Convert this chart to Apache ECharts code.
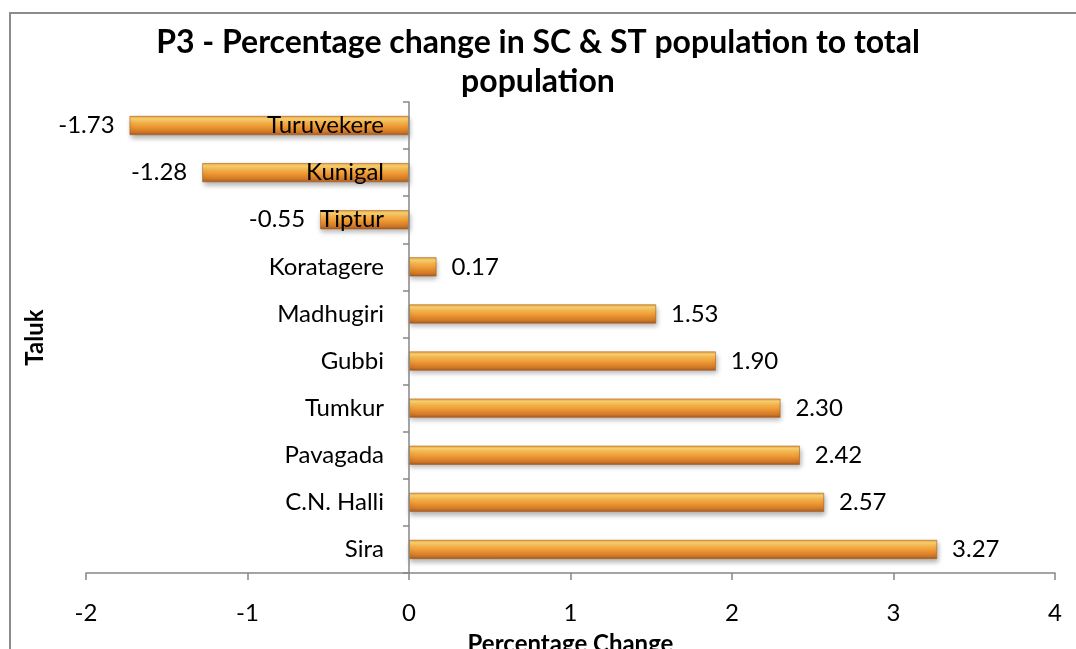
<!DOCTYPE html>
<html>
<head>
<meta charset="utf-8">
<script src="https://cdn.jsdelivr.net/npm/echarts@6/dist/echarts.min.js"></script>
<style>
  html, body { margin: 0; padding: 0; background: #fff; }
  #chart { width: 1076px; height: 649px; }
</style>
</head>
<body>
<div id="chart"></div>
<script>
// Taluks, listed bottom to top as drawn on the category axis
const taluks = ['Sira', 'C.N. Halli', 'Pavagada', 'Tumkur', 'Gubbi', 'Madhugiri', 'Koratagere', 'Tiptur', 'Kunigal', 'Turuvekere'];
// Percentage change in SC & ST share of total population
const pctChange = [3.27, 2.57, 2.42, 2.30, 1.90, 1.53, 0.17, -0.55, -1.28, -1.73];
// Value axis range
const xMin = -2;
const xMax = 4;
const xStep = 1;

const font = 'Lato, "Open Sans", "Liberation Sans", sans-serif';
const labelSize = 24;

const gridLeft = 86;
const gridRight = 21;
const plotWidth = 1076 - gridLeft - gridRight;
// Category labels sit just left of the zero line rather than the grid edge
const zeroOffset = plotWidth * (0 - xMin) / (xMax - xMin);

const barFill = new echarts.graphic.LinearGradient(0, 0, 0, 1, [
  { offset: 0, color: '#eda244' },
  { offset: 0.15, color: '#fbd46e' },
  { offset: 0.35, color: '#f5b24c' },
  { offset: 0.6, color: '#ea932f' },
  { offset: 0.85, color: '#cf7628' },
  { offset: 1, color: '#9e5a25' }
]);

const chart = echarts.init(document.getElementById('chart'));
chart.setOption({
  animation: false,
  title: {
    text: 'P3 - Percentage change in SC & ST population to total\npopulation',
    left: 'center',
    top: 18,
    textStyle: {
      fontFamily: font,
      fontSize: 32,
      fontWeight: 'bold',
      color: '#000',
      lineHeight: 39
    }
  },
  graphic: [{
    type: 'polyline',
    shape: { points: [[10, 649], [10, 13], [1076, 13]] },
    style: { stroke: '#8c8c8c', lineWidth: 2, fill: null }
  }],
  grid: {
    left: gridLeft, right: gridRight, top: 102, bottom: 76,
    containLabel: false,
    outerBoundsMode: 'none'
  },
  xAxis: {
    type: 'value',
    min: xMin,
    max: xMax,
    interval: xStep,
    name: 'Percentage Change',
    nameLocation: 'middle',
    nameGap: 59,
    nameTextStyle: { fontFamily: font, fontSize: 24, fontWeight: 'bold', color: '#000' },
    splitLine: { show: false },
    axisLine: { show: true, lineStyle: { color: '#868686', width: 1.5 } },
    axisTick: { show: true, length: 7, lineStyle: { color: '#868686', width: 1.5 } },
    axisLabel: { fontFamily: font, fontSize: labelSize, color: '#000', margin: 28 }
  },
  yAxis: {
    type: 'category',
    data: taluks,
    name: 'Taluk',
    nameLocation: 'middle',
    nameRotate: 90,
    nameGap: 39,
    nameTextStyle: { fontFamily: font, fontSize: 24, fontWeight: 'bold', color: '#000' },
    axisLine: { show: true, onZero: true, lineStyle: { color: '#868686', width: 1.5 } },
    axisTick: { show: true, length: 6, lineStyle: { color: '#868686', width: 1.5 } },
    axisLabel: { fontFamily: font, fontSize: labelSize, color: '#000', margin: 25 - zeroOffset },
    z: 5
  },
  series: [{
    type: 'bar',
    barWidth: 19,
    z: 2,
    data: pctChange.map(v => v < 0
      ? { value: v, label: { position: 'left' } }
      : v),
    itemStyle: {
      color: barFill,
      borderColor: '#a9601f',
      borderWidth: 0.6,
      shadowColor: 'rgba(0,0,0,0.3)',
      shadowBlur: 5,
      shadowOffsetX: 1,
      shadowOffsetY: 3
    },
    label: {
      show: true,
      position: 'right',
      distance: 15,
      fontFamily: font,
      fontSize: labelSize,
      color: '#000',
      formatter: p => p.value.toFixed(2)
    }
  }]
});
</script>
</body>
</html>
